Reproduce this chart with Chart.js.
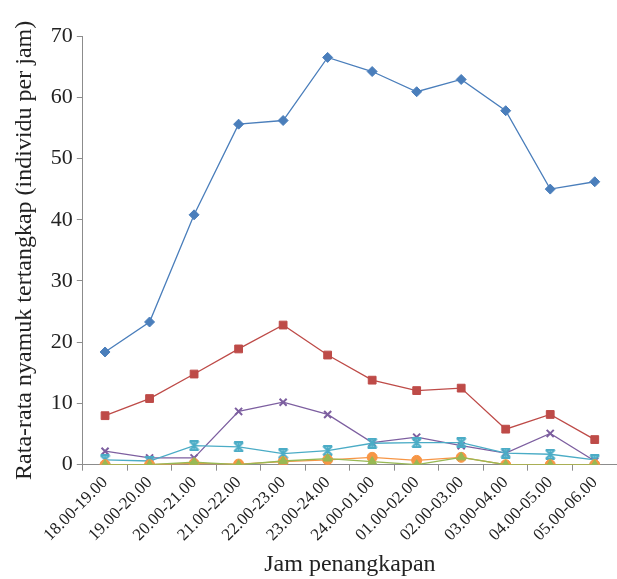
<!DOCTYPE html>
<html><head><meta charset="utf-8">
<script src="https://cdn.jsdelivr.net/npm/chart.js@4"></script>
<style>
html,body{margin:0;padding:0;background:#fff;overflow:hidden;}
#wrap{width:617px;height:579px;overflow:hidden;position:relative;}
#c{position:absolute;left:0;top:0;}
</style></head>
<body><div id="wrap"><canvas id="c" width="624" height="579" style="width:624px;height:579px"></canvas></div>
<script>
const categories = ["18.00-19.00","19.00-20.00","20.00-21.00","21.00-22.00","22.00-23.00","23.00-24.00","24.00-01.00","01.00-02.00","02.00-03.00","03.00-04.00","04.00-05.00","05.00-06.00"];
const seriesBlue   = [18.4, 23.3, 40.8, 55.6, 56.2, 66.5, 64.2, 60.9, 62.9, 57.8, 45.0, 46.2];
const seriesRed    = [8.0, 10.8, 14.8, 18.9, 22.8, 17.9, 13.8, 12.1, 12.5, 5.8, 8.2, 4.1];
const seriesGreen  = [0, 0, 0.4, 0, 0.6, 1.0, 0.5, 0, 1.2, 0, 0, 0];
const seriesPurple = [2.2, 1.1, 1.1, 8.7, 10.2, 8.2, 3.6, 4.5, 3.1, 1.9, 5.1, 0.6];
const seriesCyan   = [0.8, 0.6, 3.1, 2.9, 1.8, 2.3, 3.5, 3.6, 3.6, 1.9, 1.7, 0.8];
const seriesOrange = [0, 0, 0.2, 0.1, 0.5, 0.8, 1.2, 0.7, 1.2, 0, 0, 0];
const yTicks = [0,10,20,30,40,50,60,70];

function starMarker(color){
  const s=11, cv=document.createElement('canvas'); cv.width=s; cv.height=s;
  const g=cv.getContext('2d'); g.strokeStyle=color; g.lineWidth=2;
  g.beginPath(); g.moveTo(1,1); g.lineTo(s-1,s-1); g.moveTo(s-1,1); g.lineTo(1,s-1);
  g.moveTo(1,1); g.lineTo(s-1,1); g.moveTo(1,s-1); g.lineTo(s-1,s-1);
  g.moveTo(s/2,1); g.lineTo(s/2,s-1); g.stroke();
  return cv;
}
const serif = "'Liberation Serif', 'DejaVu Serif', serif";
function ds(data,color,style,r){
  return {data, borderColor:color, backgroundColor:color, borderWidth:1.3,
    pointStyle:style, pointRadius:r, pointHoverRadius:r, pointBorderWidth:style==='crossRot'?2:1,
    pointBorderColor:color, pointBackgroundColor:color, tension:0, fill:false};
}
new Chart(document.getElementById('c'), {
  type:'line',
  data:{labels:categories, datasets:[
    ds(seriesGreen,'#98b954','triangle',5),
    ds(seriesOrange,'#f79646','circle',5),
    ds(seriesCyan,'#4bacc6',starMarker('#4bacc6'),5),
    ds(seriesPurple,'#7d5fa0','crossRot',5),
    ds(seriesRed,'#be4b48','rect',5.5),
    ds(seriesBlue,'#4a7ebb','rectRot',5)
  ]},
  options:{
    responsive:false, animation:false,
    layout:{padding:{top:36,right:0,left:10,bottom:0}},
    plugins:{legend:{display:false}, tooltip:{enabled:false}},
    scales:{
      x:{offset:true,
        grid:{offset:true, drawOnChartArea:false, drawTicks:true, tickLength:6, color:'#8c8c8c'},
        border:{color:'#8c8c8c', width:1},
        ticks:{color:'#222', font:{family:serif, size:17}, maxRotation:45, minRotation:45, padding:2, autoSkip:false},
        title:{display:true, text:'Jam penangkapan', color:'#222', font:{family:serif, size:24}, padding:{top:3,bottom:0}}
      },
      y:{min:0, max:70,
        afterBuildTicks:(ax)=>{ax.ticks=yTicks.map(v=>({value:v}));},
        grid:{drawOnChartArea:false, drawTicks:true, tickLength:6, color:'#8c8c8c'},
        border:{color:'#8c8c8c', width:1},
        ticks:{color:'#222', font:{family:serif, size:22}, padding:4},
        title:{display:true, text:'Rata-rata nyamuk tertangkap (individu per jam)', color:'#222', font:{family:serif, size:24}, padding:{top:0,bottom:8}}
      }
    }
  }
});
</script></body></html>
